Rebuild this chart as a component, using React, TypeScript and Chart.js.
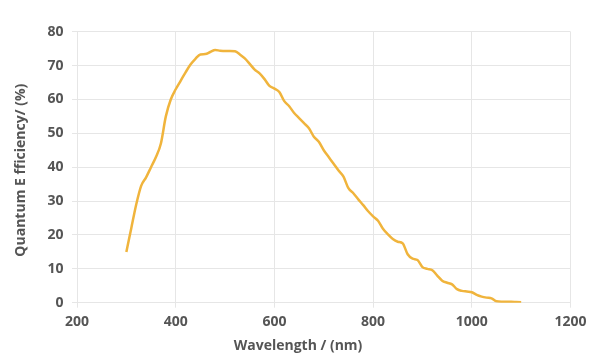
import React, { useEffect, useRef } from 'react';
import { Chart, registerables } from 'chart.js';

Chart.register(...registerables);

const wavelengths = [
  300, 310, 320, 330, 340, 350, 360, 370, 380, 390,
  400, 410, 420, 430, 440, 450, 460, 470, 480, 490,
  500, 510, 520, 530, 540, 550, 560, 570, 580, 590,
  600, 610, 620, 630, 640, 650, 660, 670, 680, 690,
  700, 710, 720, 730, 740, 750, 760, 770, 780, 790,
  800, 810, 820, 830, 840, 850, 860, 870, 880, 890,
  900, 910, 920, 930, 940, 950, 960, 970, 980, 990,
  1000, 1010, 1020, 1030, 1040, 1050, 1060, 1070, 1080, 1090, 1100,
];

const efficiency = [
  15, 22, 29, 34.5, 37, 40, 43, 47, 55, 60,
  63, 65.5, 68, 70.3, 72, 73.3, 73.4, 74, 74.6, 74.4,
  74.3, 74.3, 74.2, 73.3, 72.1, 70.5, 68.8, 67.7, 66, 64,
  63.2, 62.2, 59.5, 58, 56, 54.5, 53, 51.5, 49, 47.5,
  45, 43, 41, 39, 37.2, 33.8, 32.3, 30.5, 28.8, 27,
  25.5, 24.2, 21.8, 20.2, 18.8, 18, 17.5, 14.3, 13, 12.6,
  10.5, 10, 9.6, 8, 6.5, 5.9, 5.4, 4, 3.5, 3.3,
  3.1, 2.3, 1.8, 1.5, 1.3, 0.4, 0.3, 0.3, 0.3, 0.2, 0.1,
];

const xTickValues = [200, 400, 600, 800, 1000, 1200];
const yTickValues = [0, 10, 20, 30, 40, 50, 60, 70, 80];

const X_TITLE = 'Wavelength / (nm)';
const Y_TITLE = 'Quantum E fficiency/ (%)';

const TEXT_COLOR = '#555555';
const GRID_COLOR = '#e6e6e6';
const LINE_COLOR = '#f0b43c';
const FONT_FAMILY = '"Open Sans", sans-serif';

const titlePlugin = {
  id: 'axisTitles',
  afterDraw(chart: any) {
    const { ctx, chartArea } = chart;
    ctx.save();
    ctx.fillStyle = TEXT_COLOR;
    ctx.font = `700 14px ${FONT_FAMILY}`;
    ctx.textAlign = 'center';
    ctx.textBaseline = 'middle';
    ctx.fillText(X_TITLE, chart.width / 2 - 2, 346);
    ctx.translate(21, (chartArea.top + chartArea.bottom) / 2 + 3);
    ctx.rotate(-Math.PI / 2);
    ctx.fillText(Y_TITLE, 0, 0);
    ctx.restore();
  },
};

export default function App() {
  const canvasRef = useRef<HTMLCanvasElement | null>(null);

  useEffect(() => {
    document.body.style.margin = '0';
    const canvas = canvasRef.current;
    if (!canvas) return;
    const chart = new Chart(canvas, {
      type: 'line',
      data: {
        datasets: [
          {
            data: wavelengths.map((w, i) => ({ x: w, y: efficiency[i] })),
            borderColor: LINE_COLOR,
            backgroundColor: LINE_COLOR,
            borderWidth: 2.5,
            pointRadius: 0,
            tension: 0.4,
            cubicInterpolationMode: 'monotone',
            fill: false,
          },
        ],
      },
      options: {
        responsive: false,
        animation: false,
        layout: { padding: { left: 0, right: 29.5, top: 31.7, bottom: 0 } },
        plugins: { legend: { display: false }, tooltip: { enabled: false } },
        scales: {
          x: {
            type: 'linear',
            min: 200,
            max: 1200,
            afterBuildTicks: (scale: any) => {
              scale.ticks = xTickValues.map((v) => ({ value: v }));
            },
            afterFit: (scale: any) => {
              scale.height = 55.3;
            },
            grid: { color: GRID_COLOR, tickLength: 5 },
            border: { color: GRID_COLOR },
            ticks: {
              color: TEXT_COLOR,
              padding: 6,
              maxRotation: 0,
              callback: (v: any) => String(v),
              font: { family: FONT_FAMILY, size: 14, weight: '700' },
            },
          },
          y: {
            type: 'linear',
            min: 0,
            max: 80,
            afterBuildTicks: (scale: any) => {
              scale.ticks = yTickValues.map((v) => ({ value: v }));
            },
            afterFit: (scale: any) => {
              scale.width = 77;
            },
            grid: { color: GRID_COLOR, tickLength: 5 },
            border: { color: GRID_COLOR },
            ticks: {
              color: TEXT_COLOR,
              padding: 8.5,
              callback: (v: any) => String(v),
              font: { family: FONT_FAMILY, size: 14, weight: '700' },
            },
          },
        },
      },
      plugins: [titlePlugin],
    } as any);
    return () => chart.destroy();
  }, []);

  return (
    <div style={{ position: 'relative', width: 600, height: 358 }}>
      <canvas ref={canvasRef} width={600} height={358} style={{ display: 'block' }} />
    </div>
  );
}
